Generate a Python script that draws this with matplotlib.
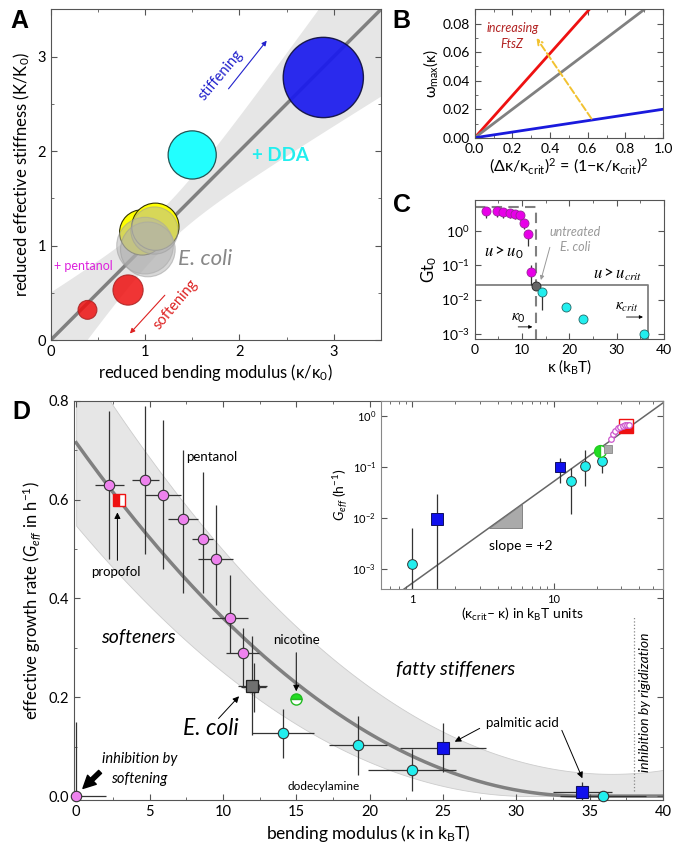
import numpy as np
import matplotlib

matplotlib.use("Agg")
import matplotlib.pyplot as plt
from matplotlib.patches import Circle, Polygon
from matplotlib.ticker import MultipleLocator, LogLocator, NullFormatter

plt.rcParams["font.family"] = ["Lato", "DejaVu Sans"]
plt.rcParams["mathtext.fontset"] = "custom"
plt.rcParams["mathtext.rm"] = "Lato"
plt.rcParams["mathtext.it"] = "Lato:italic"
plt.rcParams["mathtext.bf"] = "Lato:bold"
plt.rcParams["mathtext.default"] = "regular"
plt.rcParams["axes.unicode_minus"] = False
plt.rcParams["axes.edgecolor"] = "#555555"

# ---- panel A: reduced stiffness vs reduced bending modulus (radius = spread)
A_RED_X = [0.39, 0.82]
A_RED_Y = [0.32, 0.53]
A_RED_R = [0.10, 0.16]
A_YEL_X = [0.97, 1.11]
A_YEL_Y = [1.14, 1.20]
A_YEL_R = [0.24, 0.25]
A_GREY_X = [1.00, 1.03, 1.10]
A_GREY_Y = [1.00, 0.96, 1.16]
A_GREY_R = [0.30, 0.29, 0.25]
A_CYAN = [1.50, 1.96, 0.255]
A_BLUE = [2.89, 2.78, 0.425]
A_BAND = [1.2, 0.045, 0.15]  # centre, a, b: half width sqrt(a + b (x - c)^2)

# ---- panel B: omega_max vs (1 - k/kcrit)^2
B_SLOPES = [0.148, 0.100, 0.020]
B_COLORS = ["#ee1111", "#808080", "#1a1add"]

# ---- panel C: G t0 vs kappa
C_MAG_K = [2.33, 4.7, 6.0, 7.4, 8.6, 9.5, 10.4, 11.3, 12.0]
C_MAG_G = [3.8, 3.8, 3.5, 3.3, 3.1, 2.8, 1.67, 0.80, 0.063]
C_MAG_LO = [2.3, 2.5, 2.3, 2.3, 2.2, 2.0, 1.1, 0.35, 0.027]
C_MAG_HI = [3.8, 3.8, 3.5, 3.3, 3.1, 2.8, 1.67, 0.80, 0.10]
C_ECOLI = [13.05, 0.024]
C_CY_K = [14.2, 19.3, 22.9, 35.8]
C_CY_G = [0.0165, 0.0059, 0.0028, 0.001]
C_CY_LO = [0.005, 0.0059, 0.0028, 0.001]
C_BOX0 = [12.9, 4.9]       # kappa_0, top of dashed box
C_BOXCRIT = [36.7, 0.027]  # kappa_crit, u_crit level

# ---- panel D: effective growth rate vs bending modulus
SOFT_K = [2.27, 4.72, 5.92, 7.28, 8.62, 9.52, 10.48, 11.34, 12.1, 0.0]
SOFT_G = [0.63, 0.64, 0.61, 0.56, 0.52, 0.48, 0.36, 0.29, 0.22, 0.0]
SOFT_XERR = [1.0, 0.9, 1.2, 1.0, 0.7, 1.2, 1.2, 1.1, 0.85, 2.0]
SOFT_YLO = [0.15, 0.15, 0.15, 0.15, 0.11, 0.093, 0.07, 0.07, 0.05, 0.0]
SOFT_YHI = [0.15, 0.15, 0.15, 0.14, 0.135, 0.108, 0.087, 0.05, 0.05, 0.15]
CY_K = [14.1, 19.2, 22.9, 35.9]
CY_G = [0.127, 0.103, 0.053, 0.0]
CY_XERR = [2.1, 2.0, 3.0, 2.95]
CY_YERR = [0.05, 0.06, 0.042, 0.0]
BL_K = [25.0, 34.5]
BL_G = [0.098, 0.009]
BL_XERR = [2.95, 2.0]
BL_YERR = [0.049, 0.019]
ECOLI = [12.0, 0.223, 1.0, 0.1]
NICOTINE = [15.0, 0.197]
PROPOFOL = [2.95, 0.60]
FIT = [0.715, 34.5]               # G0, kappa where fit reaches zero
BAND_UP = [6.45e-4, 36.5, 0.045]  # a, kappa_min, offset
BAND_LO = [0.547, 31.0]           # G at kappa=0, kappa where it reaches zero

# ---- panel D inset: log-log vs (kcrit - k)
IN_CY_X = [1.0, 13.1, 16.7, 21.9]
IN_CY_G = [1.22e-3, 0.0525, 0.105, 0.129]
IN_CY_LO = [1e-4, 0.0117, 0.042, 0.077]
IN_CY_HI = [6.2e-3, 0.093, 0.213, 0.18]
IN_BL_X = [1.5, 10.96]
IN_BL_G = [9.3e-3, 0.10]
IN_BL_LO = [1e-4, 0.049]
IN_BL_HI = [0.029, 0.146]
IN_PINK_X = [25.1, 26.2, 27.2, 28.3, 29.5, 30.8, 32.0, 33.0, 33.8]
IN_PINK_G = [0.36, 0.45, 0.51, 0.57, 0.61, 0.64, 0.655, 0.66, 0.655]
IN_GREEN = [21.0, 0.203]
IN_GREY = [24.0, 0.222]
IN_RED = [32.5, 0.63]
IN_PREF = 5.2e-4          # G = pref * x^2
IN_TRI_X = [3.47, 5.97]

PINK = "#ee82ee"
CYAN = "#22eeee"
BLUE = "#1010ee"
EDGE = "#333333"


def frame(ax, size=9):
    ax.tick_params(which="both", direction="in", top=True, right=True,
                   color="#555555", labelsize=size)
    ax.tick_params(which="major", length=4)
    ax.tick_params(which="minor", length=2)


fig = plt.figure(figsize=(6.85, 8.61), dpi=100)

# ================= A
axA = fig.add_axes([0.074, 0.605, 0.482, 0.384])
xs = np.linspace(0, 3.5, 200)
c, a, b = A_BAND
hw = np.sqrt(a + b * (xs - c) ** 2)
axA.fill_between(xs, xs - hw, xs + hw, color="#e6e6e6", lw=0, zorder=0)
axA.plot(xs, xs, color="#808080", lw=2.5, zorder=1)
for x, y, r in zip(A_RED_X, A_RED_Y, A_RED_R):
    axA.add_patch(Circle((x, y), r, fc="#ee1111", ec="#aa2222", alpha=0.85, lw=0.8, zorder=3))
for x, y, r in zip(A_YEL_X, A_YEL_Y, A_YEL_R):
    axA.add_patch(Circle((x, y), r, fc="#ffff00", ec="#333300", lw=0.8, zorder=3))
for x, y, r in zip(A_GREY_X, A_GREY_Y, A_GREY_R):
    axA.add_patch(Circle((x, y), r, fc="#b0b0b0", ec="#999999", alpha=0.5, lw=0.8, zorder=4))
axA.add_patch(Circle(A_CYAN[:2], A_CYAN[2], fc="#22ffff", ec="#225555", lw=0.9, zorder=3))
axA.add_patch(Circle(A_BLUE[:2], A_BLUE[2], fc="#1a1aee", ec="#101040", lw=1.0,
                     alpha=0.92, zorder=3))
axA.set_xlim(0, 3.5)
axA.set_ylim(0, 3.5)
axA.xaxis.set_major_locator(MultipleLocator(1))
axA.yaxis.set_major_locator(MultipleLocator(1))
axA.xaxis.set_minor_locator(MultipleLocator(0.5))
axA.yaxis.set_minor_locator(MultipleLocator(0.5))
frame(axA, 10.5)
axA.set_xlabel("reduced bending modulus (κ/κ$_0$)", fontsize=12, labelpad=2)
axA.set_ylabel("reduced effective stiffness (K/K$_0$)", fontsize=12, labelpad=4)
axA.text(1.8, 2.8, "stiffening", color="#2222cc", rotation=50, fontsize=10.5,
         ha="center", va="center")
axA.annotate("", xy=(2.29, 3.17), xytext=(1.885, 2.66),
             arrowprops=dict(arrowstyle="-|>", color="#2222cc", lw=0.8,
                             mutation_scale=7, shrinkA=0, shrinkB=0))
axA.text(2.13, 1.95, "+ DDA", color="#22eeee", fontsize=13.5, fontweight="bold",
         va="center")
axA.text(1.35, 0.86, "E. coli", color="#888888", fontsize=16, style="italic",
         va="center")
axA.text(0.03, 0.78, "+ pentanol", color="#dd22dd", fontsize=9, va="center")
axA.text(1.32, 0.38, "softening", color="#dd2222", rotation=50, fontsize=10.5,
         ha="center", va="center")
axA.annotate("", xy=(0.84, 0.07), xytext=(1.21, 0.475),
             arrowprops=dict(arrowstyle="-|>", color="#dd2222", lw=0.8,
                             mutation_scale=7, shrinkA=0, shrinkB=0))

# ================= B
axB = fig.add_axes([0.693, 0.840, 0.275, 0.149])
xb = np.array([0.0, 1.0])
for s, col in zip(B_SLOPES, B_COLORS):
    axB.plot(xb, s * xb, color=col, lw=2.0)
axB.set_xlim(0, 1)
axB.set_ylim(0, 0.09)
axB.xaxis.set_major_locator(MultipleLocator(0.2))
axB.xaxis.set_minor_locator(MultipleLocator(0.1))
axB.yaxis.set_major_locator(MultipleLocator(0.02))
axB.yaxis.set_minor_locator(MultipleLocator(0.01))
axB.xaxis.set_major_formatter(plt.FormatStrFormatter("%.1f"))
axB.yaxis.set_major_formatter(plt.FormatStrFormatter("%.2f"))
frame(axB, 10)
axB.set_xlabel("(Δκ/κ$_{crit}$)$^2$ = (1−κ/κ$_{crit}$)$^2$", fontsize=11.5, labelpad=1)
axB.set_ylabel("ω$_{max}$(κ)", fontsize=11, labelpad=2)
axB.annotate("", xy=(0.328, 0.070), xytext=(0.62, 0.0134),
             arrowprops=dict(arrowstyle="->", color="#f2c230", lw=1.4, ls="--",
                             mutation_scale=9, shrinkA=0, shrinkB=0))
axB.text(0.2, 0.0715, "increasing\nFtsZ", color="#b22222", style="italic",
         fontsize=9, ha="center", va="center", linespacing=1.4)

# ================= C
axC = fig.add_axes([0.693, 0.606, 0.276, 0.162])
axC.set_yscale("log")
axC.set_xlim(0, 40)
axC.set_ylim(7e-4, 8)
k0, g0 = C_BOX0
kc, gc = C_BOXCRIT
axC.plot([0, k0, k0], [g0, g0, 7e-4], color="#808080", lw=1.5, ls=(0, (5, 3)), zorder=1)
axC.plot([0, kc, kc], [gc, gc, 7e-4], color="#808080", lw=1.3, zorder=1)
mg = np.array(C_MAG_G)
axC.errorbar(C_MAG_K, C_MAG_G, yerr=[mg - np.array(C_MAG_LO), np.array(C_MAG_HI) - mg],
             fmt="none", ecolor=EDGE, elinewidth=0.9, zorder=2)
axC.plot(C_MAG_K, C_MAG_G, "o", ms=6.5, mfc="#e800e8", mec="#992299", mew=0.6, zorder=3)
cg = np.array(C_CY_G)
axC.errorbar(C_CY_K, C_CY_G, yerr=[cg - np.array(C_CY_LO), 0 * cg],
             fmt="none", ecolor=EDGE, elinewidth=0.9, zorder=2)
axC.plot(*C_ECOLI, "o", ms=6.5, mfc="#666666", mec="#222222", mew=0.6, zorder=3)
axC.plot(C_CY_K, C_CY_G, "o", ms=6.5, mfc=CYAN, mec="#226666", mew=0.6, zorder=3,
         clip_on=False)
axC.xaxis.set_major_locator(MultipleLocator(10))
axC.xaxis.set_minor_locator(MultipleLocator(5))
axC.yaxis.set_major_locator(LogLocator(base=10, numticks=10))
axC.yaxis.set_minor_locator(LogLocator(base=10, subs=[], numticks=10))
frame(axC, 10)
axC.set_xlabel("κ (k$_B$T)", fontsize=11, labelpad=1)
axC.set_ylabel("Gt$_0$", fontsize=12, labelpad=1)
axC.text(6.1, 0.234, r"$\mathit{u} > \mathit{u}_0$", math_fontfamily="stix", fontsize=12,
         ha="center", va="center")
axC.text(30.3, 0.052, r"$\mathit{u} > \mathit{u}_{\mathit{crit}}$", math_fontfamily="stix",
         fontsize=12, ha="center", va="center")
axC.text(9.3, 0.003, r"$\mathit{\kappa}_0$", math_fontfamily="stix", fontsize=11,
         ha="center", va="center")
axC.text(32.3, 0.0062, r"$\mathit{\kappa}_{\mathit{crit}}$", math_fontfamily="stix",
         fontsize=11, ha="center", va="center")
arr = dict(arrowstyle="-|>", color="black", lw=0.6, mutation_scale=5, shrinkA=0, shrinkB=0)
axC.annotate("", xy=(12.2, 0.0016), xytext=(9.2, 0.0016), arrowprops=arr)
axC.annotate("", xy=(35.6, 0.0031), xytext=(32.1, 0.0031), arrowprops=arr)
axC.text(21.2, 0.56, "untreated\nE. coli", color="#999999", style="italic",
         fontsize=9, ha="center", va="center", linespacing=1.3)
axC.annotate("", xy=(14.0, 0.037), xytext=(15.9, 0.33),
             arrowprops=dict(arrowstyle="-|>", color="#999999", lw=0.7,
                             mutation_scale=6, shrinkA=0, shrinkB=0))

# ================= D
axD = fig.add_axes([0.108, 0.0708, 0.860, 0.4638])
kk = np.linspace(0, 40, 400)
up = BAND_UP[0] * (BAND_UP[1] - kk) ** 2 + BAND_UP[2]
lo = np.where(kk < BAND_LO[1], BAND_LO[0] * (1 - kk / BAND_LO[1]) ** 2, 0.0)
fit = np.where(kk < FIT[1], FIT[0] * (1 - kk / FIT[1]) ** 2, 0.0)
axD.fill_between(kk, lo, up, color="#e6e6e6", lw=0.6, ec="#cccccc", zorder=0)
axD.plot(kk, fit, color="#808080", lw=2.5, zorder=1)

axD.errorbar(SOFT_K, SOFT_G, xerr=SOFT_XERR, yerr=[SOFT_YLO, SOFT_YHI], fmt="none",
             ecolor=EDGE, elinewidth=0.9, zorder=2)
axD.errorbar(CY_K, CY_G, xerr=CY_XERR, yerr=CY_YERR, fmt="none",
             ecolor=EDGE, elinewidth=0.9, zorder=2)
axD.errorbar(BL_K, BL_G, xerr=BL_XERR, yerr=BL_YERR, fmt="none",
             ecolor=EDGE, elinewidth=0.9, zorder=2)
axD.errorbar(ECOLI[0], ECOLI[1], xerr=ECOLI[2], yerr=ECOLI[3], fmt="none",
             ecolor=EDGE, elinewidth=0.9, zorder=2)
axD.plot(SOFT_K, SOFT_G, "o", ms=7.5, mfc=PINK, mec=EDGE, mew=0.8, zorder=3, clip_on=False)
axD.plot(CY_K, CY_G, "o", ms=7.5, mfc=CYAN, mec=EDGE, mew=0.8, zorder=3, clip_on=False)
axD.plot(BL_K, BL_G, "s", ms=8.5, mfc=BLUE, mec="#101060", mew=0.8, zorder=3, clip_on=False)
axD.plot(ECOLI[0], ECOLI[1], "s", ms=8, mfc="#707070", mec="#222222", mew=0.9, zorder=4)
axD.plot(*NICOTINE, "o", ms=8, fillstyle="top", mfc="#22dd22", mfcalt="white",
         mec="#22bb22", mew=1.0, zorder=4)
axD.plot(*PROPOFOL, "s", ms=8, fillstyle="left", mfc="#ee1111", mfcalt="white",
         mec="#ee1111", mew=1.0, zorder=4)
axD.set_xlim(-0.15, 40)
axD.set_ylim(-0.008, 0.8)
axD.xaxis.set_major_locator(MultipleLocator(5))
axD.xaxis.set_minor_locator(MultipleLocator(2.5))
axD.yaxis.set_major_locator(MultipleLocator(0.2))
axD.yaxis.set_minor_locator(MultipleLocator(0.1))
axD.yaxis.set_major_formatter(plt.FormatStrFormatter("%.1f"))
frame(axD, 10.5)
axD.set_xlabel("bending modulus (κ in k$_B$T)", fontsize=12.5, labelpad=3)
axD.set_ylabel(r"effective growth rate ($\mathit{G_{eff}}$ in h$^{-1}$)", fontsize=12,
               labelpad=4)

blk = dict(arrowstyle="-|>", color="black", lw=0.7, mutation_scale=9, shrinkA=0, shrinkB=0)
axD.text(7.5, 0.686, "pentanol", fontsize=9.5, va="center")
axD.text(2.7, 0.454, "propofol", fontsize=9.5, ha="center", va="center")
axD.annotate("", xy=(2.81, 0.574), xytext=(2.81, 0.477), arrowprops=blk)
axD.text(1.7, 0.32, "softeners", fontsize=14, style="italic", va="center")
axD.text(15.0, 0.315, "nicotine", fontsize=9.5, ha="center", va="center")
axD.annotate("", xy=(15.0, 0.212), xytext=(15.0, 0.29), arrowprops=blk)
axD.text(9.2, 0.137, "E. coli", fontsize=16.5, style="italic", ha="center", va="center")
axD.annotate("", xy=(11.1, 0.202), xytext=(9.7, 0.157), arrowprops=blk)
axD.text(4.3, 0.055, "inhibition by\nsoftening", fontsize=10.5, style="italic",
         ha="center", va="center", linespacing=1.5)
axD.annotate("", xy=(0.46, 0.0155), xytext=(1.63, 0.049),
             arrowprops=dict(arrowstyle="simple,head_width=0.9,head_length=0.9,tail_width=0.3",
                             color="black", mutation_scale=10, shrinkA=0, shrinkB=0))
axD.text(14.4, 0.019, "dodecylamine", fontsize=8.5, va="center")
axD.text(25.85, 0.256, "fatty stiffeners", fontsize=14, style="italic", ha="center",
         va="center")
axD.text(27.9, 0.147, "palmitic acid", fontsize=9.5, va="center")
axD.annotate("", xy=(25.8, 0.11), xytext=(27.5, 0.137), arrowprops=blk)
axD.annotate("", xy=(34.5, 0.036), xytext=(33.1, 0.133), arrowprops=blk)
axD.plot([38.0, 38.0], [0.011, 0.362], color="#888888", lw=0.9, ls=":")
axD.text(38.75, 0.19, "inhibition by rigidization", fontsize=10, style="italic",
         rotation=90, ha="center", va="center")

# ================= D inset
axI = fig.add_axes([0.556, 0.316, 0.412, 0.2187])
axI.set_xscale("log")
axI.set_yscale("log")
axI.set_xlim(0.6, 59)
axI.set_ylim(4e-4, 2.0)
xl = np.logspace(np.log10(0.6), np.log10(59), 50)
axI.plot(xl, IN_PREF * xl ** 2, color="#666666", lw=1.1, zorder=1)
t0, t1 = IN_TRI_X
axI.add_patch(Polygon([(t0, IN_PREF * t0 ** 2), (t1, IN_PREF * t0 ** 2),
                       (t1, IN_PREF * t1 ** 2)], closed=True, fc="#aaaaaa",
                      ec="#777777", lw=0.6, zorder=1))
axI.text(5.8, 2.8e-3, "slope = +2", fontsize=10, ha="center", va="center")
ig = np.array(IN_CY_G)
axI.errorbar(IN_CY_X, IN_CY_G, yerr=[ig - np.array(IN_CY_LO), np.array(IN_CY_HI) - ig],
             fmt="none", ecolor=EDGE, elinewidth=0.9, zorder=2)
bg = np.array(IN_BL_G)
axI.errorbar(IN_BL_X, IN_BL_G, yerr=[bg - np.array(IN_BL_LO), np.array(IN_BL_HI) - bg],
             fmt="none", ecolor=EDGE, elinewidth=0.9, zorder=2)
axI.plot(IN_CY_X, IN_CY_G, "o", ms=7, mfc=CYAN, mec=EDGE, mew=0.7, zorder=3)
axI.plot(IN_BL_X[:1], IN_BL_G[:1], "s", ms=8, mfc=BLUE, mec="#101060", mew=0.7, zorder=3)
axI.plot(IN_BL_X[1:], IN_BL_G[1:], "s", ms=6.5, mfc=BLUE, mec="#101060", mew=0.7, zorder=3)
axI.plot(*IN_GREEN, "o", ms=8.5, fillstyle="left", mfc="#22dd22", mfcalt="white",
         mec="#22cc22", mew=1.0, zorder=3)
axI.plot(*IN_GREY, "s", ms=6, mfc="#aaaaaa", mec="#888888", mew=0.6, zorder=3)
axI.plot(*IN_RED, "s", ms=9.5, fillstyle="bottom", mfc="#ee1111", mfcalt="white",
         mec="#ee1111", mew=1.0, zorder=3)
axI.plot(IN_PINK_X, IN_PINK_G, "o", ms=4, mfc="white", mec="#cc55cc", mew=0.9, zorder=4)
axI.xaxis.set_major_locator(LogLocator(base=10, numticks=10))
axI.xaxis.set_minor_locator(LogLocator(base=10, subs=np.arange(2, 10), numticks=10))
axI.xaxis.set_minor_formatter(NullFormatter())
axI.xaxis.set_major_formatter(plt.FuncFormatter(lambda v, p: f"{v:g}"))
axI.yaxis.set_major_locator(LogLocator(base=10, numticks=10))
axI.yaxis.set_minor_locator(LogLocator(base=10, subs=[], numticks=10))
frame(axI, 8)
for sp in axI.spines.values():
    sp.set_color("#888888")
axI.set_xlabel("(κ$_{crit}$– κ) in k$_B$T units", fontsize=10, labelpad=1)
axI.set_ylabel(r"$\mathit{G_{eff}}$ (h$^{-1}$)", fontsize=10, labelpad=1)

# panel letters
for lab, x, y in [("A", 0.029, 0.976), ("B", 0.586, 0.976), ("C", 0.587, 0.762),
                  ("D", 0.031, 0.521)]:
    fig.text(x, y, lab, fontsize=18, fontweight="bold", family="Liberation Sans",
             ha="center", va="center")

fig.savefig("out.png", dpi=100)
